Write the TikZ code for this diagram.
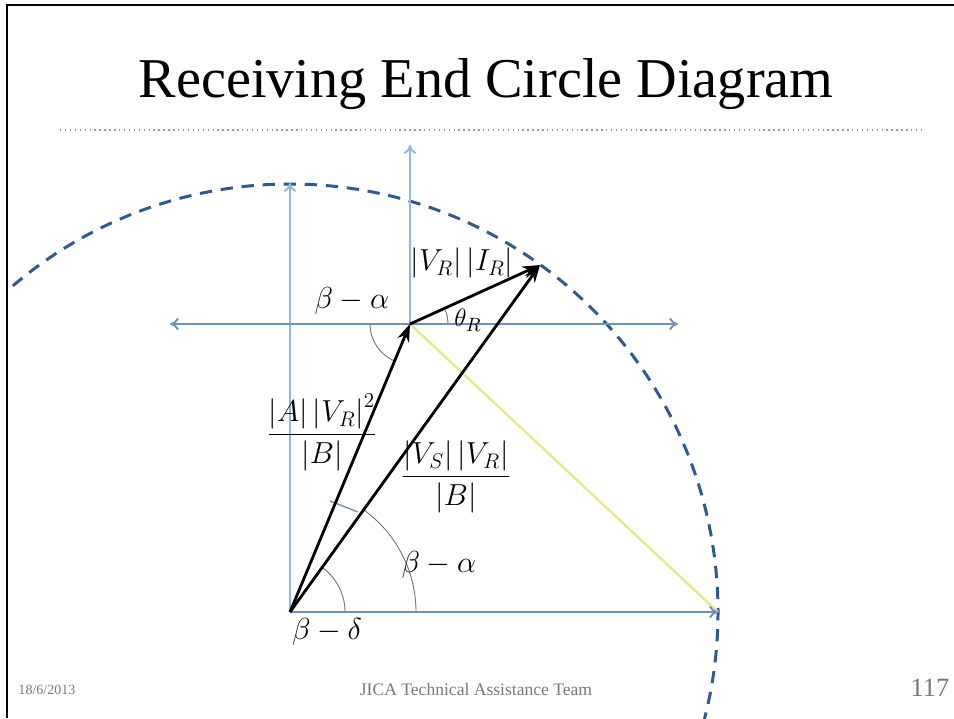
\documentclass[tikz,border=0pt]{standalone}
\usepackage{fontspec}
\setmainfont{Liberation Serif}
\usepackage{amsmath}
\usetikzlibrary{arrows.meta}
\definecolor{axisblue}{RGB}{112,146,180}
\definecolor{axislight}{RGB}{150,182,222}
\definecolor{circblue}{RGB}{47,88,150}
\definecolor{lineyellow}{RGB}{226,236,140}
\definecolor{arcgray}{RGB}{110,112,118}
\definecolor{footgray}{RGB}{120,120,120}
\tikzset{
  axisline/.style={draw=axisblue, line width=1.1pt},
  axisarrow/.style={axisline, -{To[length=5pt,width=7pt]}},
  vecline/.style={draw=black, line width=1.6pt, -{Stealth[length=10pt,width=7pt]}},
  anglearc/.style={draw=arcgray, line width=0.5pt},
  lbl/.style={inner sep=0pt, font=\fontsize{17}{20}\selectfont},
  foot/.style={inner sep=0pt, text=footgray},
}
\begin{document}
\begin{tikzpicture}[x=0.02cm, y=-0.02cm]
\useasboundingbox (0,0) rectangle (954,718);
% frame
\draw[line width=1.3pt, black] (7,718) -- (7,5) -- (954,5);
% title
\node[inner sep=0pt, font=\fontsize{32}{36}\selectfont] (title) at (486,84) {Receiving End Circle Diagram};
\coordinate (ruleL) at (60,130);
\coordinate (ruleR) at (925,130);
\draw[draw=gray!80, line width=0.8pt, dotted] (ruleL) -- (ruleR);
% key points
\coordinate (O) at (290,612);
\coordinate (P) at (410,324);
\coordinate (Q) at (540,265);
\coordinate (Ytop) at (290,183);
\coordinate (Xend) at (718,612);
\coordinate (Pup) at (410,145);
\coordinate (Hleft) at (170,324);
\coordinate (Hright) at (678,324);
% dashed circle
\begin{scope}
\clip (8,6) rectangle (954,718);
\draw[draw=circblue, line width=1.7pt, dash pattern=on 7pt off 5pt] (O) ++(-136:428) arc[start angle=-136, end angle=20, radius=428];
\end{scope}
% yellow line
\draw[draw=lineyellow, line width=1.4pt] (P) -- (Xend);
% axes
\draw[axisarrow, draw=axislight] (O) -- (Ytop);
\draw[axisarrow] (O) -- (Xend);
\draw[axisarrow, draw=axislight] (P) -- (Pup);
\draw[axisline, {To[length=5pt,width=7pt]}-{To[length=5pt,width=7pt]}] (Hleft) -- (Hright);
% angle arcs
\draw[anglearc] (P) ++(180:40) arc[start angle=180, end angle=113, radius=40];
\draw[anglearc] (P) ++(0:38) arc[start angle=0, end angle=-24.4, radius=38];
\draw[anglearc] (O) ++(0:55) arc[start angle=0, end angle=-54, radius=55];
\draw[anglearc] (O) ++(0:126) arc[start angle=0, end angle=-54, radius=126];
\coordinate (tickA) at (330,501);
\coordinate (tickB) at (358,512);
\draw[draw=axisblue, line width=0.8pt] (tickA) -- (tickB);
% vectors
\draw[vecline] (O) -- (P);
\draw[vecline] (O) -- (Q);
\draw[vecline] (P) -- (Q);
% labels
\node[lbl] (lVI) at (462,263) {$\left|V_R\right|\left|I_R\right|$};
\node[lbl] (lba1) at (352,301) {$\beta-\alpha$};
\node[lbl, font=\fontsize{15}{18}\selectfont] (lth) at (468,320) {$\theta_R$};
\node[lbl] (lfrac1) at (322,432) {$\dfrac{\left|A\right|\left|V_R\right|^2}{\left|B\right|}$};
\node[lbl] (lfrac2) at (456,477) {$\dfrac{\left|V_S\right|\left|V_R\right|}{\left|B\right|}$};
\node[lbl] (lba2) at (439,565) {$\beta-\alpha$};
\node[lbl] (lbd) at (327,632) {$\beta-\delta$};
% footer
\node[foot, font=\fontsize{8}{10}\selectfont] (date) at (47,690) {18/6/2013};
\node[foot, font=\fontsize{10}{12}\selectfont] (team) at (476,689) {JICA Technical Assistance Team};
\node[foot, font=\fontsize{15}{18}\selectfont] (page) at (930,688) {117};
\end{tikzpicture}
\end{document}
